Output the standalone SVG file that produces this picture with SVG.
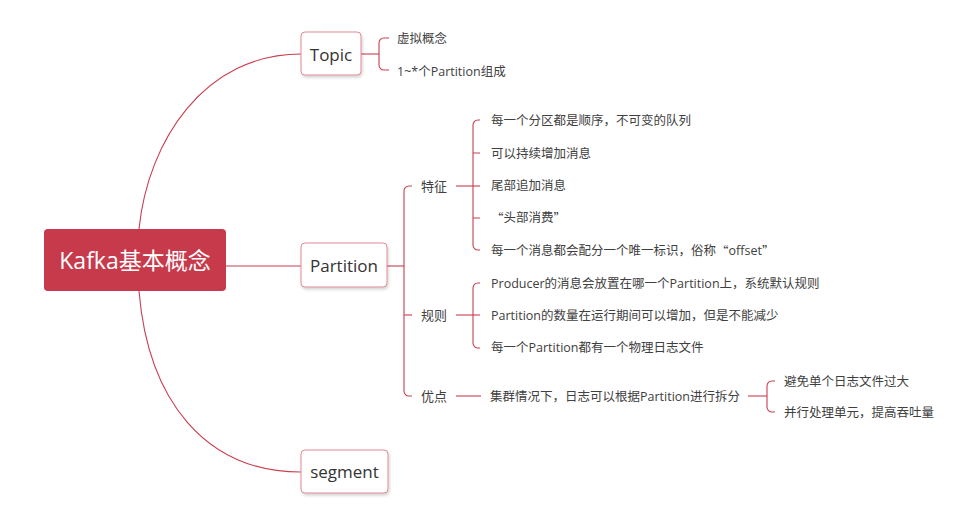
<svg xmlns="http://www.w3.org/2000/svg" width="967" height="522" viewBox="0 0 967 522">
<defs>
<filter id="sh" x="-20%" y="-20%" width="150%" height="160%">
<feDropShadow dx="1" dy="2" stdDeviation="1.5" flood-color="#000" flood-opacity="0.18"/>
</filter>
<style>
.c{fill:none;stroke:#C93E50;stroke-width:1.1}
.box{fill:#fff;stroke:#E08995;stroke-width:1}
.nt{font-family:"Open Sans","Noto Sans CJK SC",sans-serif;font-size:17px;fill:#333;text-anchor:middle;dominant-baseline:central}
.t{font-family:"Open Sans","Noto Sans CJK SC",sans-serif;font-size:12.5px;fill:#404040;dominant-baseline:central}
.t2{font-family:"Open Sans","Noto Sans CJK SC",sans-serif;font-size:13px;fill:#404040;dominant-baseline:central}
.q{font-family:"Noto Sans CJK SC",sans-serif}
</style>
</defs>
<rect width="967" height="522" fill="#fff"/>
<g id="connectors">
<path class="c" d="M139,229 C148,140 205,54 301,54"/>
<path class="c" d="M226,266 H301"/>
<path class="c" d="M139,291 C148,400 205,472 301,472"/>
<path class="c" d="M361,54 H379"/>
<path class="c" d="M389,38 H384 A5,5 0 0 0 379,43 V65 A5,5 0 0 0 384,70 H389"/>
<path class="c" d="M387,266 H404"/>
<path class="c" d="M412,186 H409 A5,5 0 0 0 404,191 V391 A5,5 0 0 0 409,396 H412"/>
<path class="c" d="M404,315 H412"/>
<path class="c" d="M456,186 H480"/>
<path class="c" d="M480,120 H478 A5,5 0 0 0 473,125 V245 A5,5 0 0 0 478,250 H480"/>
<path class="c" d="M473,153 H480 M473,218 H480"/>
<path class="c" d="M456,315 H480"/>
<path class="c" d="M480,283 H478 A5,5 0 0 0 473,288 V343 A5,5 0 0 0 478,348 H480"/>
<path class="c" d="M456,396 H481"/>
<path class="c" d="M748,396 H767"/>
<path class="c" d="M775,381 H772 A5,5 0 0 0 767,386 V407 A5,5 0 0 0 772,412 H775"/>
</g>
<g id="root">
<rect x="44" y="229" width="182" height="62" rx="4" fill="#C73A4B"/>
<text x="135" y="260" font-family="Open Sans,Noto Sans CJK SC,sans-serif" font-size="23" fill="#fff" text-anchor="middle" dominant-baseline="central">Kafka基本概念</text>
</g>
<g id="topic">
<rect class="box" x="301" y="32" width="60" height="43" rx="4" filter="url(#sh)"/>
<text class="nt" x="331" y="54">Topic</text>
</g>
<g id="partition">
<rect class="box" x="301" y="243" width="86" height="44" rx="4" filter="url(#sh)"/>
<text class="nt" x="344" y="265">Partition</text>
</g>
<g id="segment">
<rect class="box" x="301" y="450" width="87" height="43" rx="4" filter="url(#sh)"/>
<text class="nt" x="344.5" y="471.5">segment</text>
</g>
<g id="topic-1"><text class="t" x="397" y="38">虚拟概念</text></g>
<g id="topic-2"><text class="t" x="397" y="71">1~*个Partition组成</text></g>
<g id="feature"><text class="t2" x="421" y="186">特征</text></g>
<g id="feature-1"><text class="t" x="491" y="120">每一个分区都是顺序，不可变的队列</text></g>
<g id="feature-2"><text class="t" x="491" y="153">可以持续增加消息</text></g>
<g id="feature-3"><text class="t" x="491" y="185">尾部追加消息</text></g>
<g id="feature-4"><text class="t" x="491" y="217"><tspan class="q">“</tspan>头部消费<tspan class="q">”</tspan></text></g>
<g id="feature-5"><text class="t" x="491" y="250">每一个消息都会配分一个唯一标识，俗称<tspan class="q">“</tspan>offset<tspan class="q">”</tspan></text></g>
<g id="rule"><text class="t2" x="421" y="315">规则</text></g>
<g id="rule-1"><text class="t" x="491" y="283">Producer的消息会放置在哪一个Partition上，系统默认规则</text></g>
<g id="rule-2"><text class="t" x="491" y="315">Partition的数量在运行期间可以增加，但是不能减少</text></g>
<g id="rule-3"><text class="t" x="491" y="347">每一个Partition都有一个物理日志文件</text></g>
<g id="advantage"><text class="t2" x="421" y="396">优点</text></g>
<g id="advantage-1"><text class="t" x="490" y="396">集群情况下，日志可以根据Partition进行拆分</text></g>
<g id="advantage-1-1"><text class="t" x="784" y="381">避免单个日志文件过大</text></g>
<g id="advantage-1-2"><text class="t" x="784" y="412">并行处理单元，提高吞吐量</text></g>
</svg>
